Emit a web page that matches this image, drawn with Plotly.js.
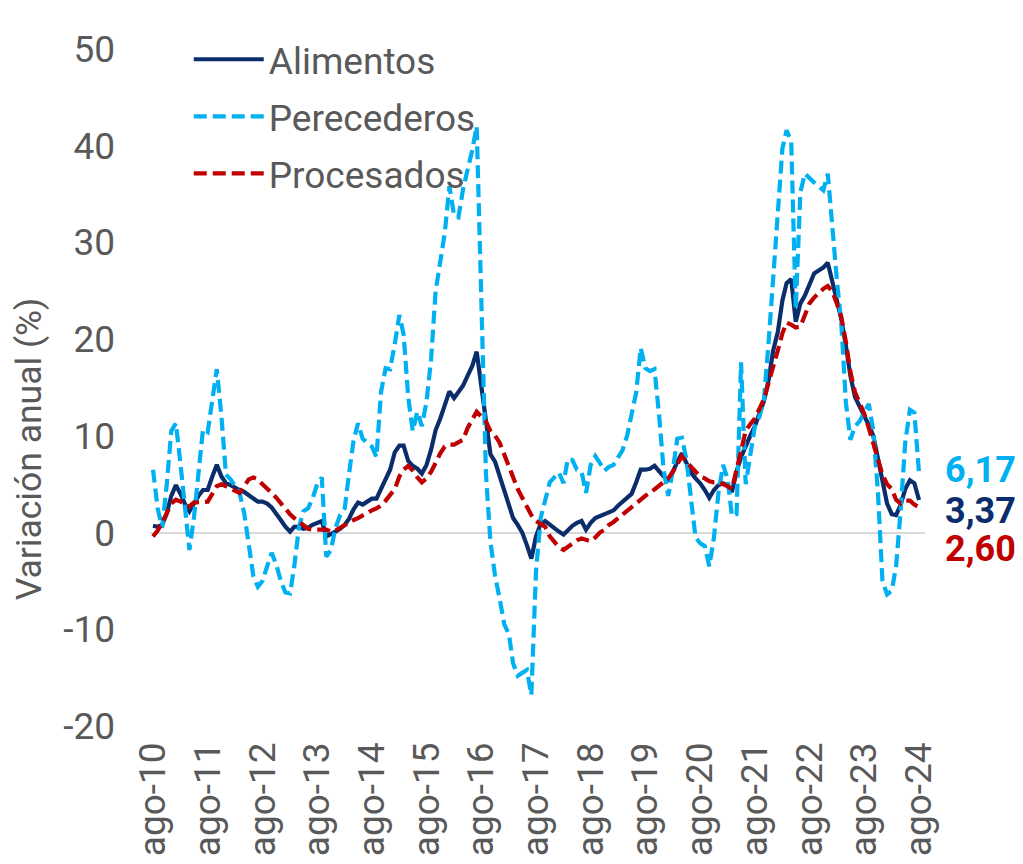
<!DOCTYPE html>
<html>
<head>
<meta charset="utf-8">
<script src="https://cdn.plot.ly/plotly-3.0.1.min.js"></script>
<style>html,body{margin:0;padding:0;background:#fff;}#chart{width:1023px;height:864px;}</style>
</head>
<body>
<div id="chart"></div>
<script>
// Monthly, ago-2010 .. ago-2024
const startYear = 2010, startMonth = 8, nMonths = 169;
const months = [];
for (let k = 0; k < nMonths; k++) {
  const m0 = startMonth - 1 + k;
  const y = startYear + Math.floor(m0 / 12);
  const m = (m0 % 12) + 1;
  months.push(y + '-' + String(m).padStart(2, '0') + '-01');
}

const alimentos = [
  0.7,0.6,0.8,2.0,3.8,4.9,4.0,3.0,2.2,3.0,3.8,4.4,
  4.4,5.8,7.0,5.8,5.1,4.9,4.6,4.4,4.2,3.9,3.5,3.2,
  3.2,3.0,2.6,2.0,1.3,0.6,0.1,0.6,0.6,0.4,0.5,0.8,
  1.0,1.2,-0.4,-0.2,0.1,0.4,0.8,1.4,2.4,3.1,2.9,3.2,
  3.5,3.5,4.5,5.4,6.5,8.3,9.0,9.0,7.4,6.9,6.6,6.1,
  7.0,8.6,10.6,11.8,13.3,14.6,13.9,14.5,15.2,16.2,17.2,18.7,
  15.0,11.0,8.1,7.3,5.8,4.3,2.8,1.5,0.8,0.0,-1.3,-2.7,
  -0.4,0.9,1.2,0.8,0.4,0.1,-0.2,0.3,0.7,1.0,1.2,0.3,
  1.0,1.5,1.7,1.9,2.1,2.3,2.8,3.2,3.6,4.0,5.2,6.5,
  6.5,6.6,6.9,6.3,5.8,5.5,6.3,7.3,8.2,7.2,6.2,5.6,
  5.1,4.4,3.6,4.4,4.9,5.1,4.8,4.2,6.3,7.8,9.0,10.0,
  11.0,12.4,13.6,15.8,18.8,20.7,24.0,25.8,26.2,21.8,23.7,24.5,
  25.7,26.8,27.1,27.4,27.9,25.9,23.8,22.1,19.3,16.2,14.0,13.1,
  12.2,11.1,10.0,7.6,5.0,3.0,1.9,1.8,2.9,4.5,5.4,5.1,
  3.37
];

const perecederos = [
  6.5,2.5,0.5,5.0,10.5,11.3,7.0,2.5,-1.8,1.5,6.0,10.7,
  10.4,14.0,16.9,12.0,6.0,5.5,4.8,4.1,2.0,-1.5,-4.5,-5.6,
  -5.0,-3.5,-2.1,-3.3,-5.0,-6.2,-6.3,-3.5,0.5,2.2,2.5,3.5,
  5.0,5.7,-2.5,-1.8,0.5,1.8,2.5,6.0,9.5,11.3,9.7,9.3,
  8.9,7.8,14.5,17.0,16.9,19.5,22.5,20.5,14.0,10.5,12.5,11.0,
  13.5,18.0,25.0,28.0,31.0,35.8,32.8,32.6,35.5,37.5,39.5,42.0,
  24.5,6.0,-1.0,-4.5,-6.8,-9.5,-10.5,-13.5,-14.8,-14.5,-14.2,-16.8,
  -4.0,1.5,3.5,5.2,5.7,6.2,5.1,7.6,7.5,6.5,6.3,4.1,
  7.0,7.9,7.2,6.4,6.8,7.0,7.8,8.5,10.0,12.5,14.5,19.1,
  17.0,16.7,16.9,12.1,6.5,3.8,6.5,9.7,9.8,7.6,3.4,-0.5,
  -1.1,-1.4,-3.5,-0.5,4.1,7.0,5.5,1.7,1.9,17.6,5.0,8.0,
  11.0,12.0,13.8,19.7,26.0,33.0,39.7,41.6,40.4,23.1,35.2,37.1,
  36.6,36.2,35.8,35.4,37.1,31.0,25.9,21.7,13.4,9.6,11.0,11.5,
  12.3,13.3,10.5,4.1,-5.0,-6.4,-6.0,-3.5,2.4,9.3,12.7,12.4,
  6.17
];

const procesados = [
  -0.4,0.2,1.0,2.0,3.0,3.4,3.2,2.9,2.7,3.1,3.1,3.1,
  3.2,4.0,4.8,5.0,4.8,4.5,4.3,4.1,4.8,5.5,5.7,5.5,
  5.0,4.6,4.1,3.6,3.0,2.4,1.9,1.5,1.1,0.7,0.4,0.3,
  0.3,0.3,0.3,0.1,0.2,0.5,0.8,1.1,1.3,1.5,1.8,2.1,
  2.3,2.5,2.8,3.3,3.9,4.5,5.8,6.5,6.9,6.4,5.7,5.2,
  5.6,6.3,7.2,8.2,8.9,9.1,9.1,9.3,9.6,10.8,11.6,12.5,
  12.0,11.5,10.5,10.0,9.3,8.0,6.8,5.6,4.5,3.6,2.6,1.8,
  1.2,0.9,0.6,-0.4,-1.0,-1.5,-1.8,-1.5,-1.1,-0.8,-0.6,-0.8,
  -0.9,-0.5,0.0,0.3,0.8,1.1,1.5,1.9,2.3,2.6,3.0,3.4,
  3.8,4.1,4.5,4.8,5.2,5.6,6.3,7.0,7.9,7.3,6.8,6.2,
  5.8,5.6,5.3,5.2,5.2,5.0,4.8,4.5,6.5,8.8,10.5,11.2,
  11.8,12.8,13.8,15.5,17.0,18.8,20.6,21.7,21.5,21.2,21.3,22.5,
  23.7,24.3,24.8,25.2,25.5,24.9,23.6,22.3,19.7,16.6,14.5,13.4,
  12.3,10.8,9.3,7.5,6.0,5.0,4.5,3.4,3.0,3.3,3.3,2.9,
  2.6
];

const tickLabels = ['ago-10','ago-11','ago-12','ago-13','ago-14','ago-15','ago-16','ago-17','ago-18','ago-19','ago-20','ago-21','ago-22','ago-23','ago-24'];
const tickVals = tickLabels.map((t, k) => (startYear + k) + '-08-01');
const yTickVals = [-20, -10, 0, 10, 20, 30, 40, 50];
const yTickText = ['-20', '-10', '0', '10', '20', '30', '40', '50'];

const seriesNames = ['Alimentos', 'Perecederos', 'Procesados'];
const colors = ['#0b2d6b', '#00b0f0', '#c00000'];
const dashes = ['solid', '13px,6px', '13px,6px'];
const data = [alimentos, perecederos, procesados];

const traces = data.map((ys, k) => ({
  x: months, y: ys, type: 'scatter', mode: 'lines',
  name: seriesNames[k], legendgroup: 'g' + k,
  line: {color: colors[k], width: 4.2, dash: dashes[k]},
  hoverinfo: 'skip'
}));

const lastDate = months[months.length - 1];
const labelShift = [-11, 3, -42];
const annotations = data.map((ys, k) => ({
  x: lastDate, y: ys[ys.length - 1], xref: 'x', yref: 'y',
  text: '<b>' + ys[ys.length - 1].toFixed(2).replace('.', ',') + '</b>',
  showarrow: false, xanchor: 'left', yanchor: 'middle',
  xshift: 24, yshift: labelShift[k],
  font: {family: 'Roboto', size: 36, color: colors[k]}
}));
annotations.push({
  text: 'Variación anual (%)', xref: 'paper', yref: 'paper',
  x: -0.155, y: 0.41, xanchor: 'center', yanchor: 'middle',
  textangle: -90, showarrow: false,
  font: {family: 'Roboto', size: 35.5, color: '#595959'}
});

const layout = {
  width: 1023, height: 864,
  margin: {l: 150, r: 98, t: 48.5, b: 137.5},
  paper_bgcolor: '#fff', plot_bgcolor: '#fff',
  font: {family: 'Roboto', color: '#595959', size: 37},
  showlegend: true,
  legend: {
    x: 0.05, y: 1.03, xanchor: 'left', yanchor: 'top',
    bgcolor: 'rgba(0,0,0,0)', font: {family: 'Roboto', size: 37, color: '#595959'},
    itemwidth: 70, tracegroupgap: 6
  },
  xaxis: {
    type: 'date', range: ['2010-07-12', '2024-09-10'],
    tickvals: tickVals, ticktext: tickLabels, tickangle: -90,
    showgrid: false, zeroline: false, showline: false, ticks: '',
    ticklabelstandoff: 8,
    tickfont: {family: 'Roboto', size: 37, color: '#595959'}, fixedrange: true
  },
  yaxis: {
    range: [-20, 50], tickvals: yTickVals, ticktext: yTickText,
    showgrid: false, showline: false, ticks: '',
    zeroline: true, zerolinecolor: '#d9d9d9', zerolinewidth: 2,
    ticklabelstandoff: 34,
    tickfont: {family: 'Roboto', size: 37, color: '#595959'},
    fixedrange: true
  },
  annotations: annotations
};

Plotly.newPlot('chart', traces, layout, {displayModeBar: false, staticPlot: true});
</script>
</body>
</html>
